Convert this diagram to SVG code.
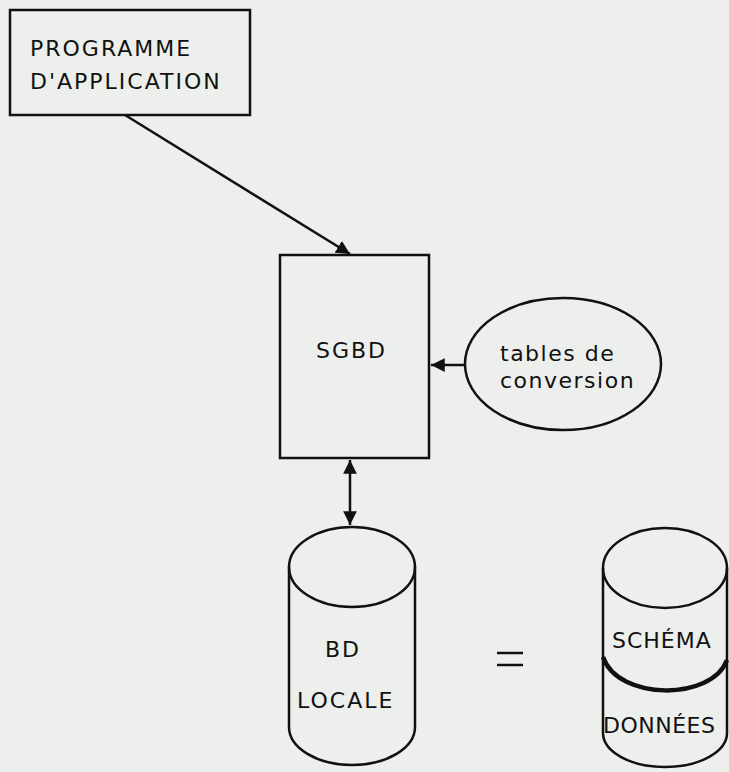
<svg xmlns="http://www.w3.org/2000/svg" width="729" height="772" viewBox="0 0 729 772">
<style>
.s{fill:none;stroke:#111;stroke-width:2.5}
.t{font-family:"DejaVu Sans","Liberation Sans",sans-serif;fill:#111;font-size:22px;letter-spacing:2px}
</style>
<defs>
<marker id="ah" viewBox="0 0 10 10" refX="10" refY="5" markerWidth="5.5" markerHeight="5.5" orient="auto-start-reverse">
<path d="M0,0 L10,5 L0,10 z" fill="#111"/>
</marker>
</defs>
<rect width="729" height="772" fill="#edefec"/>
<g id="prog">
<rect class="s" x="10" y="10" width="240" height="105"/>
<text class="t" x="30" y="56">PROGRAMME</text>
<text class="t" x="30" y="89">D'APPLICATION</text>
</g>
<g id="sgbd">
<rect class="s" x="280" y="255" width="149" height="203"/>
<text class="t" x="316" y="358">SGBD</text>
</g>
<g id="tables">
<ellipse class="s" cx="563" cy="364" rx="98" ry="66"/>
<text class="t" x="500" y="361" style="letter-spacing:1.5px">tables de</text>
<text class="t" x="500" y="388" style="letter-spacing:1.5px">conversion</text>
</g>
<g id="bdlocale">
<ellipse class="s" cx="352" cy="567" rx="63" ry="40"/>
<path class="s" d="M289,567 L289,727 A63,38 0 0 0 415,727 L415,567"/>
<text class="t" x="325" y="657">BD</text>
<text class="t" x="297" y="708">LOCALE</text>
</g>
<g id="eq">
<path class="s" d="M497,653 H523 M497,665 H523"/>
</g>
<g id="schema">
<ellipse class="s" cx="665" cy="568" rx="62" ry="40"/>
<path class="s" d="M603,568 L603,733 A62,34 0 0 0 727,733 L727,568"/>
<path d="M603,657 C618,701 712,701 727,660" fill="none" stroke="#111" stroke-width="4.5"/>
<text class="t" x="612" y="648" style="letter-spacing:1px">SCHÉMA</text>
<text class="t" x="603" y="733" style="letter-spacing:0.5px">DONNÉES</text>
</g>
<g id="connectors">
<line class="s" x1="125" y1="115" x2="350" y2="254" marker-end="url(#ah)"/>
<line class="s" x1="465" y1="365" x2="431" y2="365" marker-end="url(#ah)"/>
<line class="s" x1="350" y1="460" x2="350" y2="525" marker-start="url(#ah)" marker-end="url(#ah)"/>
</g>
</svg>
